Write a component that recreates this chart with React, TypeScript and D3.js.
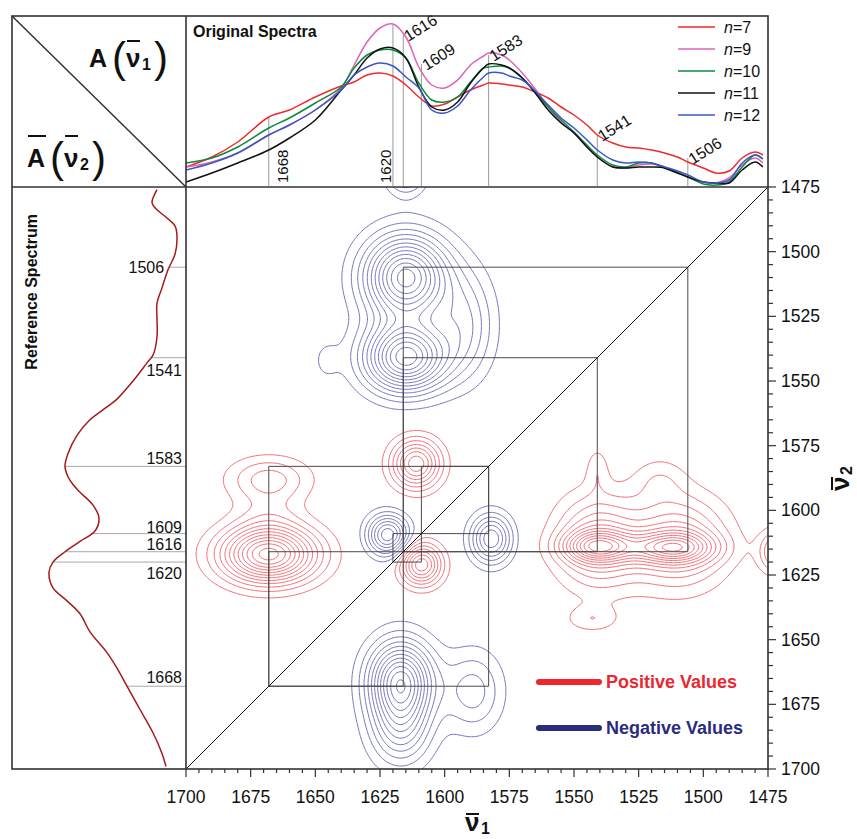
import React, { useMemo } from "react";
import * as d3 from "d3";

const FONT = "'Liberation Sans', Arial, Helvetica, sans-serif";

// original spectra, wavenumber (cm-1) and height above the panel floor
const specNu = [1700, 1690, 1680, 1668, 1660, 1650, 1640, 1635, 1630, 1625, 1620, 1615, 1610, 1605, 1600, 1595, 1590, 1585, 1583, 1578, 1575, 1570, 1565, 1560, 1555, 1550, 1545, 1541, 1535, 1530, 1525, 1520, 1515, 1510, 1506, 1500, 1495, 1490, 1485, 1480, 1477];
const specN7 = [19, 29, 44, 69, 76, 89, 100, 104, 111, 113, 110, 101, 89, 80, 82, 89, 96, 101, 103, 102, 101, 99, 94, 88, 79, 71, 61, 51, 43, 39, 38, 36, 33, 29, 24, 18, 13, 15, 28, 34, 31];
const specN9 = [19, 24, 33, 51, 61, 76, 98, 121, 144, 158, 162, 149, 119, 101, 98, 106, 121, 130, 133, 131, 126, 113, 97, 79, 64, 53, 39, 29, 19, 18, 21, 22, 19, 14, 9, 4, 3, 8, 21, 28, 23];
const specN10 = [23, 28, 39, 58, 68, 83, 99, 118, 131, 136, 136, 128, 103, 86, 84, 89, 104, 118, 119, 120, 118, 108, 94, 79, 66, 54, 41, 31, 21, 19, 23, 23, 18, 13, 9, 2, 1, 4, 19, 31, 27];
const specN11 = [4, 13, 23, 36, 48, 66, 96, 111, 128, 137, 138, 128, 99, 79, 76, 84, 103, 118, 122, 121, 118, 108, 93, 76, 63, 53, 39, 29, 19, 18, 19, 19, 18, 13, 9, 4, 3, 3, 16, 24, 19];
const specN12 = [16, 23, 33, 51, 61, 76, 96, 111, 119, 123, 120, 109, 98, 76, 73, 80, 96, 109, 113, 113, 110, 106, 95, 81, 68, 58, 46, 36, 26, 23, 24, 23, 19, 15, 11, 4, 3, 6, 23, 31, 27];
const seriesN = ["7", "9", "10", "11", "12"];
const seriesColors = ["#ee2b2e", "#e062b8", "#0b8a3e", "#111111", "#3b57c6"];

// reference spectrum (vertical, left panel)
const refNu = [1476, 1481, 1483, 1487, 1490, 1494, 1501, 1507, 1514, 1520, 1526, 1533, 1540, 1543, 1550, 1557, 1560, 1565, 1571, 1578, 1583, 1587, 1590, 1593, 1598, 1603, 1608, 1612, 1616, 1620, 1624, 1630, 1635, 1640, 1647, 1655, 1661, 1668, 1677, 1686, 1694, 1699];
const refInt = [29, 34, 31, 19, 11, 9, 11, 18, 24, 29, 29, 29, 33, 39, 53, 69, 79, 96, 109, 118, 121, 118, 113, 106, 93, 87, 91, 106, 121, 133, 137, 133, 119, 106, 96, 79, 69, 59, 46, 33, 24, 20];

// marked bands
const topMarkNu = [1668, 1620, 1616, 1609, 1583, 1541, 1506];
const topMarkHeight = [68, 161, 151, 122, 131, 51, 28];
const refMarkNu = [1506, 1541, 1583, 1609, 1616, 1620, 1668];

// cross peaks joined to the diagonal
const crossNu1 = [1616, 1506, 1616, 1541, 1668, 1583, 1668, 1616, 1609, 1583, 1609, 1620];
const crossNu2 = [1506, 1616, 1541, 1616, 1583, 1668, 1616, 1668, 1583, 1609, 1620, 1609];

// correlation peaks
const peakNu1 = [1615, 1615, 1592, 1646, 1615, 1617, 1617, 1589, 1668, 1668, 1668, 1611, 1609, 1622, 1582, 1541, 1512, 1541, 1510, 1541, 1517, 1543, 1470];
const peakNu2 = [1510, 1541, 1528, 1542, 1467, 1666, 1685, 1670, 1617, 1588, 1601, 1582, 1621, 1609.5, 1611, 1614, 1614.5, 1612, 1612, 1584, 1588, 1642, 1616];
const peakAmp = [-1.0, -1.0, -0.3, -0.09, -0.6, -0.9, -0.4, -0.28, 1.0, 0.28, 0.1, 0.62, 0.62, -0.62, -0.55, 0.55, 0.55, 0.45, 0.45, 0.12, 0.12, 0.14, 0.5];
const peakSd1 = [11, 11, 8, 4, 5, 8.5, 8, 8, 12.5, 11, 9, 6.5, 5.5, 5.5, 5.5, 9, 11, 11, 13, 3, 7, 7, 5];
const peakSd2 = [11, 9, 14, 6, 6, 10.5, 10, 11, 7.5, 6, 6, 6.5, 5.5, 5.5, 6.5, 4, 4, 12, 12, 6, 6, 3.5, 5.5];

const contourLevels = [0.08, 0.16, 0.24, 0.32, 0.4, 0.48, 0.56, 0.64, 0.72, 0.8, 0.88, 0.96];
const axisTicks = [1700, 1675, 1650, 1625, 1600, 1575, 1550, 1525, 1500, 1475];
const minorTicks = d3.range(1475, 1701, 5);

const STEP = 0.5;

export default function App() {
  const x = d3.scaleLinear().domain([1700, 1475]).range([186, 768]);
  const y = d3.scaleLinear().domain([1475, 1700]).range([187, 769]);
  const hTop = d3.scaleLinear().domain([0, 170]).range([186, 16]);
  const hRef = d3.scaleLinear().domain([0, 174]).range([186, 12]);

  const series = [specN7, specN9, specN10, specN11, specN12];
  const specLine = d3
    .line<number>()
    .x((_, i) => x(specNu[i]))
    .y((d) => hTop(d))
    .curve(d3.curveCatmullRom.alpha(0.5));
  const refLine = d3
    .line<number>()
    .x((d) => hRef(d))
    .y((_, i) => y(refNu[i]))
    .curve(d3.curveCatmullRom.alpha(0.5));

  const refAt = (nu: number) => {
    const i = Math.max(1, Math.min(refNu.length - 1, d3.bisectLeft(refNu, nu)));
    const t = (nu - refNu[i - 1]) / (refNu[i] - refNu[i - 1]);
    return d3.interpolateNumber(refInt[i - 1], refInt[i])(t);
  };

  const { pos, neg } = useMemo(() => {
    const n = Math.round(225 / STEP) + 1;
    const vals: number[] = new Array(n * n);
    for (let j = 0; j < n; j++) {
      const b = 1475 + j * STEP;
      for (let i = 0; i < n; i++) {
        const a = 1700 - i * STEP;
        let s = 0;
        for (let k = 0; k < peakAmp.length; k++) {
          const u = (a - peakNu1[k]) / peakSd1[k];
          const v = (b - peakNu2[k]) / peakSd2[k];
          s += peakAmp[k] * Math.exp(-0.5 * (u * u + v * v));
        }
        vals[j * n + i] = s;
      }
    }
    const gen = d3.contours().size([n, n]).thresholds(contourLevels);
    return { pos: gen(vals), neg: gen(vals.map((v) => -v)) };
  }, []);

  const contourPath = d3.geoPath(
    d3.geoTransform({
      point: function (px: number, py: number) {
        (this as any).stream.point(x(1700 - (px - 0.5) * STEP), y(1475 + (py - 0.5) * STEP));
      },
    })
  );

  const frame = "#333";
  const vertLabelDx: Record<number, number> = { 1668: 19, 1620: -2 };
  const refLabelDy: Record<number, number> = { 1506: 6, 1541: 18, 1583: -2, 1609: -1, 1616: -2, 1620: 17, 1668: -3 };

  return (
    <svg
      width={857}
      height={839}
      style={{ position: "absolute", left: 0, top: 0, background: "#fff" }}
      fontFamily={FONT}
    >
      <defs>
        <clipPath id="mainClip">
          <rect x={186} y={187} width={582} height={582} />
        </clipPath>
        <clipPath id="topClip">
          <rect x={186} y={16} width={582} height={171} />
        </clipPath>
      </defs>

      {/* corner cell */}
      <line x1={12} y1={16} x2={186} y2={187} stroke={frame} strokeWidth={1.5} />
      <g fontWeight="bold" fill="#111">
        <text x={89} y={67} fontSize={25}>A</text>
        <text x={112} y={72} fontSize={42} fontWeight="normal">(</text>
        <text x={126} y={67} fontSize={26}>ν</text>
        <line x1={127} y1={41} x2={140} y2={41} stroke="#111" strokeWidth={2} />
        <text x={142} y={70} fontSize={16}>1</text>
        <text x={154} y={72} fontSize={42} fontWeight="normal">)</text>

        <text x={27} y={167} fontSize={25}>A</text>
        <line x1={28} y1={136} x2={46} y2={136} stroke="#111" strokeWidth={2} />
        <text x={50} y={172} fontSize={42} fontWeight="normal">(</text>
        <text x={64} y={167} fontSize={26}>ν</text>
        <line x1={65} y1={136} x2={78} y2={136} stroke="#111" strokeWidth={2} />
        <text x={80} y={170} fontSize={16}>2</text>
        <text x={92} y={172} fontSize={42} fontWeight="normal">)</text>
      </g>

      {/* top panel: original spectra */}
      <g>
        {topMarkNu.map((nu, i) => (
          <line
            key={nu}
            x1={x(nu)}
            x2={x(nu)}
            y1={hTop(0)}
            y2={hTop(topMarkHeight[i])}
            stroke="#9a9a9a"
            strokeWidth={1}
          />
        ))}
        <g clipPath="url(#topClip)">
          {series.map((s, i) => (
            <path key={i} d={specLine(s) || ""} fill="none" stroke={seriesColors[i]} strokeWidth={1.5} />
          ))}
        </g>
        {topMarkNu.map((nu, i) =>
          nu in vertLabelDx ? (
            <text
              key={nu}
              transform={`translate(${x(nu) + vertLabelDx[nu]},183) rotate(-90)`}
              fontSize={15}
              fill="#111"
            >
              {nu}
            </text>
          ) : (
            <text
              key={nu}
              transform={`translate(${x(nu) + 5},${hTop(topMarkHeight[i]) + 7}) rotate(-32)`}
              fontSize={16}
              fill="#111"
            >
              {nu}
            </text>
          )
        )}
        <text x={193} y={37} fontSize={16} fontWeight="bold" fill="#111">
          Original Spectra
        </text>
        {seriesN.map((s, i) => (
          <g key={s} transform={`translate(678,${27 + i * 22})`}>
            <line x1={0} x2={37} y1={0} y2={0} stroke={seriesColors[i]} strokeWidth={1.5} />
            <text x={46} y={6} fontSize={16} fill="#111">
              <tspan fontStyle="italic">n</tspan>={s}
            </text>
          </g>
        ))}
      </g>

      {/* left panel: reference spectrum */}
      <g>
        {refMarkNu.map((nu) => (
          <line
            key={nu}
            x1={hRef(refAt(nu))}
            x2={186}
            y1={y(nu)}
            y2={y(nu)}
            stroke="#a8a8a8"
            strokeWidth={1}
          />
        ))}
        <path d={refLine(refInt) || ""} fill="none" stroke="#a31b1b" strokeWidth={1.5} />
        {refMarkNu.map((nu) => (
          <text
            key={nu}
            x={nu === 1506 ? hRef(refAt(nu)) - 5 : 182}
            y={y(nu) + refLabelDy[nu]}
            textAnchor="end"
            fontSize={16}
            fill="#111"
          >
            {nu}
          </text>
        ))}
        <text
          transform="translate(37,214) rotate(-90)"
          textAnchor="end"
          fontSize={16}
          fontWeight="bold"
          fill="#111"
        >
          Reference Spectrum
        </text>
      </g>

      {/* main correlation map */}
      <g clipPath="url(#mainClip)">
        {neg.map((c, i) => (
          <path key={"n" + i} d={contourPath(c) || ""} fill="none" stroke="#6464b6" strokeWidth={0.9} />
        ))}
        {pos.map((c, i) => (
          <path key={"p" + i} d={contourPath(c) || ""} fill="none" stroke="#ef5c64" strokeWidth={0.9} />
        ))}
        {crossNu1.map((a, i) => {
          const b = crossNu2[i];
          return (
            <g key={i} stroke="#4a4a4a" strokeWidth={1}>
              <line x1={x(a)} x2={x(a)} y1={y(a)} y2={y(b)} />
              <line x1={x(b)} x2={x(a)} y1={y(b)} y2={y(b)} />
            </g>
          );
        })}
        <line x1={x(1700)} y1={y(1700)} x2={x(1475)} y2={y(1475)} stroke="#111" strokeWidth={1} />
      </g>

      {/* legend */}
      <g fontWeight="bold" fontSize={18}>
        <line x1={539} x2={599} y1={682} y2={682} stroke="#ec2731" strokeWidth={6} strokeLinecap="round" />
        <text x={606} y={688} fill="#ec2731">Positive Values</text>
        <line x1={539} x2={599} y1={728} y2={728} stroke="#2b2d7c" strokeWidth={6} strokeLinecap="round" />
        <text x={606} y={734} fill="#2b2d7c">Negative Values</text>
      </g>

      {/* frame */}
      <g stroke={frame} strokeWidth={1.6} fill="none">
        <rect x={12} y={16} width={756} height={753} />
        <line x1={186} x2={186} y1={16} y2={769} />
        <line x1={12} x2={768} y1={187} y2={187} />
      </g>

      {/* bottom axis */}
      <g stroke={frame} strokeWidth={1.2}>
        {minorTicks.map((t) => (
          <line key={t} x1={x(t)} x2={x(t)} y1={769} y2={axisTicks.includes(t) ? 777 : 773} />
        ))}
      </g>
      {axisTicks.map((t) => (
        <text key={t} x={x(t)} y={803} textAnchor="middle" fontSize={17.5} fill="#111">
          {t}
        </text>
      ))}
      <g fontWeight="bold" fill="#111">
        <text x={465} y={831} fontSize={26}>ν</text>
        <line x1={466} x2={479} y1={814} y2={814} stroke="#111" strokeWidth={2} />
        <text x={481} y={834} fontSize={16}>1</text>
      </g>

      {/* right axis */}
      <g stroke={frame} strokeWidth={1.2}>
        {minorTicks.map((t) => (
          <line key={t} x1={768} x2={axisTicks.includes(t) ? 776 : 773} y1={y(t)} y2={y(t)} />
        ))}
      </g>
      {axisTicks.map((t) => (
        <text key={t} x={781} y={y(t)} dominantBaseline="central" fontSize={17.5} fill="#111">
          {t}
        </text>
      ))}
      <g transform="translate(849,482) rotate(-90)" fontWeight="bold" fill="#111">
        <text x={-9} y={0} fontSize={26}>ν</text>
        <line x1={-8} x2={5} y1={-17} y2={-17} stroke="#111" strokeWidth={2} />
        <text x={7} y={3} fontSize={16}>2</text>
      </g>
    </svg>
  );
}
